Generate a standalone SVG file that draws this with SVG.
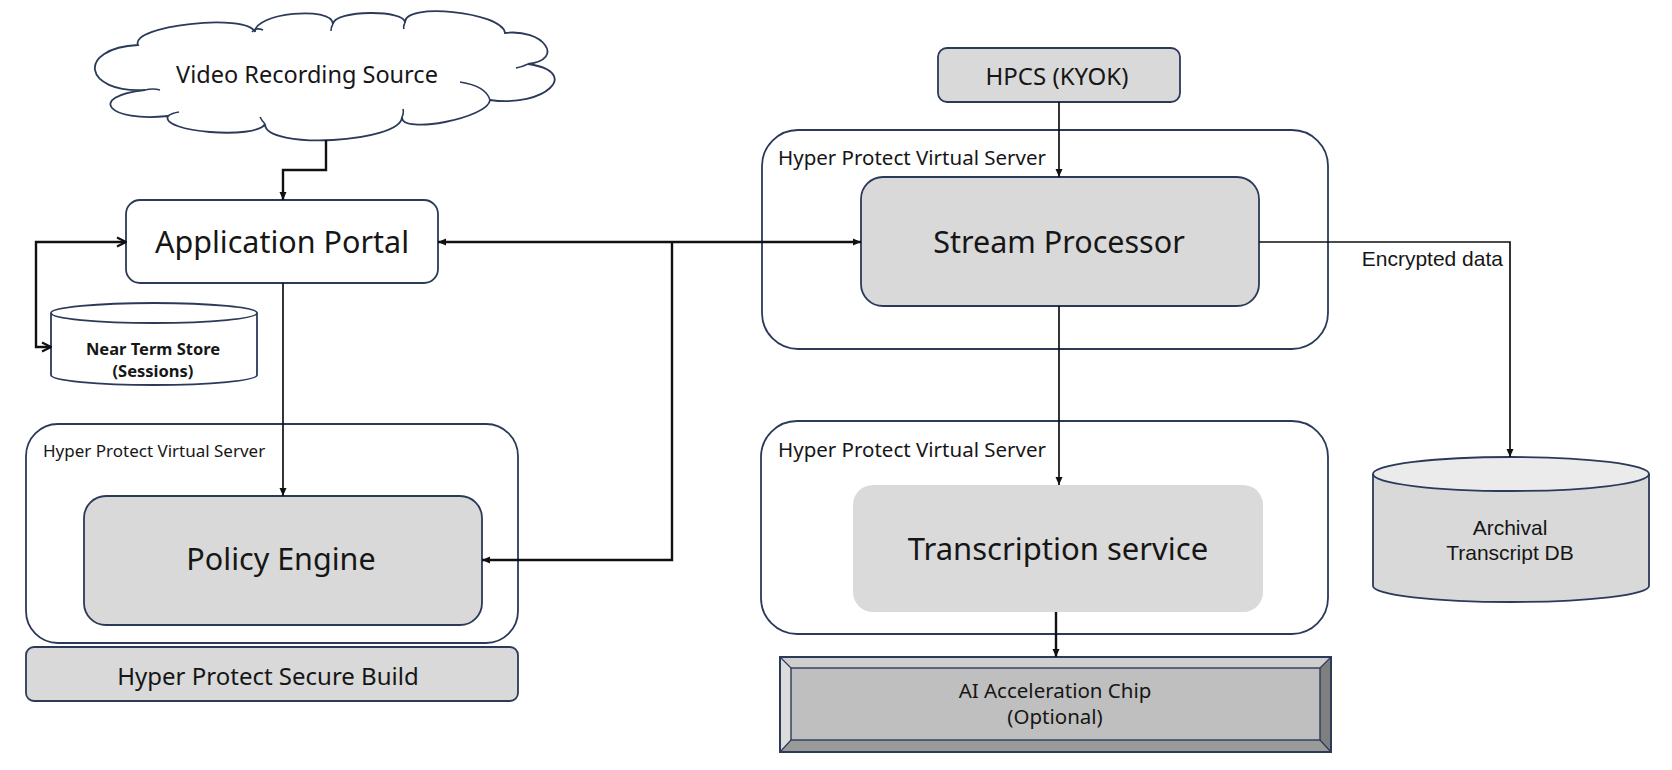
<svg xmlns="http://www.w3.org/2000/svg" width="1672" height="770" viewBox="0 0 1672 770">
<defs>
<style>
.box{fill:#ffffff;stroke:#2c3a5a;stroke-width:1.8}
.grey{fill:#d9d9d9;stroke:#2c3a5a;stroke-width:1.8}
.cont{fill:none;stroke:#2c3a5a;stroke-width:1.6}
.conn{fill:none;stroke:#111111;stroke-width:2.4}
.thin{fill:none;stroke:#111111;stroke-width:1.7}
.t{font-family:"Noto Sans","Open Sans",sans-serif;fill:#161616;text-anchor:middle;dominant-baseline:central}
.a{font-family:"Liberation Sans",Arial,sans-serif;fill:#161616;text-anchor:middle;dominant-baseline:central}
.lbl{font-family:"Noto Sans","Open Sans",sans-serif;fill:#161616;dominant-baseline:central}
</style>
<marker id="ah" viewBox="0 0 8 8" refX="8" refY="4" markerWidth="8" markerHeight="8" markerUnits="userSpaceOnUse" orient="auto-start-reverse">
<path d="M0,0.5 L8,4 L0,7.5 z" fill="#111111"/>
</marker>
<marker id="av" viewBox="0 0 12 12" refX="11" refY="6" markerWidth="12" markerHeight="12" markerUnits="userSpaceOnUse" orient="auto-start-reverse">
<path d="M2,1.5 L11,6 L2,10.5" fill="none" stroke="#111111" stroke-width="2.2"/>
</marker>
</defs>
<rect width="1672" height="770" fill="#ffffff"/>

<g id="video-source">
<path class="box" d="M138,45 C129.3,25.7 246.3,12.7 255,32 C253.7,13.3 331.7,5.3 333,24 C334.3,10 406.3,9 405,23 C402.3,1.7 502.3,11.7 505,33 C543,28.3 566,59.3 528,64 C582.7,72 544.7,108 490,100 C488.7,118 400.7,135 402,117 C401.3,143 264.3,150 265,124 C256.3,140 159.3,132 168,116 C108.7,122.7 85.7,96.7 145,90 C83,93.3 76,48.3 138,45 Z"/>
<path class="cont" d="M252,32 Q256,27 263,30 M333,24 Q331,27 331,31 M405,23 Q403,26 404,29 M528,64 Q522,67 516,68 M460,82 Q486,86 490,100 M145,90 Q153,88 160,90 M168,116 Q172,113 179,112 M265,124 Q262,121 260,117 M402,117 Q404,113 403,109"/>
<text class="t" x="307" y="74" font-size="23.5">Video Recording Source</text>
</g>

<g id="application-portal">
<rect class="box" x="126" y="200" width="312" height="83" rx="14"/>
<text class="t" x="282" y="241" font-size="30.5">Application Portal</text>
</g>

<g id="near-term-store">
<path class="box" d="M51,313 V375 A103 10 0 0 0 257,375 V313"/>
<ellipse class="box" cx="154" cy="313" rx="103" ry="10"/>
<text class="t" x="153" y="348" font-size="16.5" font-weight="bold">Near Term Store</text>
<text class="t" x="153" y="370" font-size="16.5" font-weight="bold">(Sessions)</text>
</g>

<g id="hpvs-left">
<rect class="box" x="26" y="424" width="492" height="219" rx="32"/>
<text class="lbl" x="43" y="450" font-size="17">Hyper Protect Virtual Server</text>
</g>

<g id="policy-engine">
<rect class="grey" x="84" y="496" width="398" height="129" rx="22"/>
<text class="t" x="281" y="558" font-size="30.5">Policy Engine</text>
</g>

<g id="secure-build">
<rect class="grey" x="26" y="647" width="492" height="54" rx="8"/>
<text class="t" x="268" y="675" font-size="24">Hyper Protect Secure Build</text>
</g>

<g id="hpcs">
<rect class="grey" x="938" y="48" width="242" height="54" rx="9"/>
<text class="t" x="1057" y="75" font-size="24">HPCS (KYOK)</text>
</g>

<g id="hpvs-top">
<rect class="box" x="762" y="130" width="566" height="219" rx="36"/>
<text class="lbl" x="778" y="157" font-size="20.5">Hyper Protect Virtual Server</text>
</g>

<g id="stream-processor">
<rect class="grey" x="861" y="177" width="398" height="129" rx="22"/>
<text class="t" x="1059" y="241" font-size="30.5">Stream Processor</text>
</g>

<g id="hpvs-bottom">
<rect class="box" x="761" y="421" width="567" height="213" rx="36"/>
<text class="lbl" x="778" y="449" font-size="20.5">Hyper Protect Virtual Server</text>
</g>

<g id="transcription-service">
<rect x="853" y="485" width="410" height="127" rx="20" fill="#dadada"/>
<text class="t" x="1058" y="548" font-size="31">Transcription service</text>
</g>

<g id="ai-chip">
<rect x="780" y="657" width="551" height="95" fill="#bfbfbf"/>
<polygon points="780,657 1331,657 1320,668 791,668" fill="#cfcfcf"/>
<polygon points="780,657 791,668 791,740 780,752" fill="#dcdcdc"/>
<polygon points="1331,657 1331,752 1320,740 1320,668" fill="#7f7f7f"/>
<polygon points="780,752 791,740 1320,740 1331,752" fill="#9a9a9a"/>
<rect x="791" y="668" width="529" height="72" fill="#bfbfbf" stroke="#2c3a5a" stroke-width="1.4"/>
<path d="M780,657 L791,668 M1331,657 L1320,668 M780,752 L791,740 M1331,752 L1320,740" stroke="#2c3a5a" stroke-width="1.2"/>
<rect x="780" y="657" width="551" height="95" fill="none" stroke="#2c3a5a" stroke-width="2"/>
<text class="t" x="1055" y="690" font-size="20.5">AI Acceleration Chip</text>
<text class="t" x="1055" y="716" font-size="20.5">(Optional)</text>
</g>

<g id="archival-db">
<path d="M1373,474 V586 A138 16 0 0 0 1649,586 V474" fill="#d9d9d9" stroke="#2c3a5a" stroke-width="1.8"/>
<ellipse cx="1511" cy="474" rx="138" ry="17" fill="#ebebeb" stroke="#2c3a5a" stroke-width="1.8"/>
<text class="a" x="1510" y="527" font-size="21">Archival</text>
<text class="a" x="1510" y="552" font-size="21">Transcript DB</text>
</g>

<g id="connectors">
<path class="conn" d="M326,140 V170 H283 V200" marker-end="url(#ah)"/>
<path class="conn" d="M126,242 H36 V347 H51" marker-start="url(#av)" marker-end="url(#av)"/>
<path class="thin" d="M283,283 V496" marker-end="url(#ah)"/>
<path class="conn" d="M438,242 H861" marker-start="url(#ah)" marker-end="url(#ah)"/>
<path class="conn" d="M672,242 V560 H482" marker-end="url(#ah)"/>
<path class="thin" d="M1059,102 V177" marker-end="url(#ah)"/>
<path class="thin" d="M1259,242 H1510 V457" marker-end="url(#ah)"/>
<path class="thin" d="M1059,306 V485" marker-end="url(#ah)"/>
<path class="conn" d="M1056,612 V657" marker-end="url(#ah)"/>
<text class="a" x="1503" y="258" font-size="21" style="text-anchor:end">Encrypted data</text>
</g>
</svg>
